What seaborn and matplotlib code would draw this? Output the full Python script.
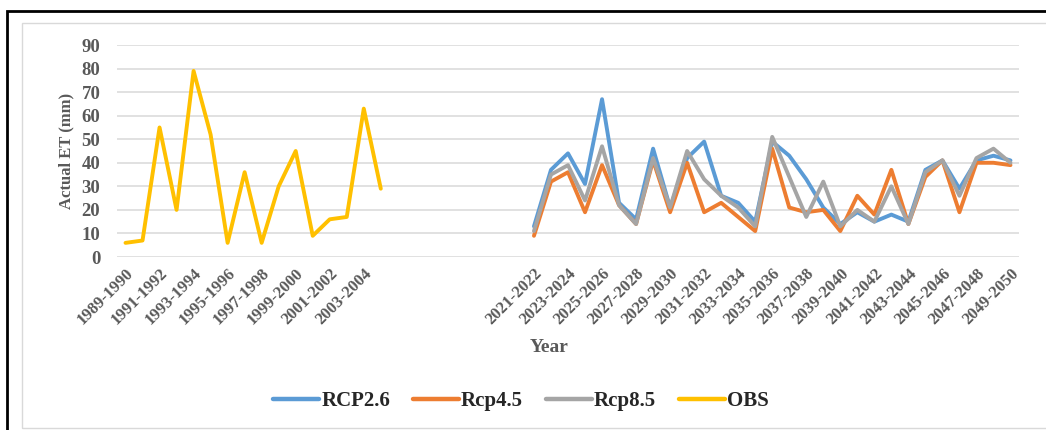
import numpy as np
import pandas as pd
import matplotlib
matplotlib.use("Agg")
import matplotlib.pyplot as plt
import seaborn as sns
from matplotlib.patches import Rectangle

sns.set_theme(style="white")
plt.rcParams['font.family'] = ['Liberation Serif', 'DejaVu Serif']
plt.rcParams['font.weight'] = 'bold'

# x 축 카테고리 (관측 16개 + 빈칸 8개 + 미래 29개)
obs_labels = ["1989-1990", "1990-1991", "1991-1992", "1992-1993", "1993-1994", "1994-1995",
              "1995-1996", "1996-1997", "1997-1998", "1998-1999", "1999-2000", "2000-2001",
              "2001-2002", "2002-2003", "2003-2004", "2004-2005"]
gap_labels = ["", "", "", "", "", "", "", ""]
fut_labels = ["2021-2022", "2022-2023", "2023-2024", "2024-2025", "2025-2026", "2026-2027",
              "2027-2028", "2028-2029", "2029-2030", "2030-2031", "2031-2032", "2032-2033",
              "2033-2034", "2034-2035", "2035-2036", "2036-2037", "2037-2038", "2038-2039",
              "2039-2040", "2040-2041", "2041-2042", "2042-2043", "2043-2044", "2044-2045",
              "2045-2046", "2046-2047", "2047-2048", "2048-2049", "2049-2050"]

obs = [6, 7, 55, 20, 79, 52, 6, 36, 6, 30, 45, 9, 16, 17, 63, 29]
rcp26 = [13, 37, 44, 31, 67, 23, 16, 46, 21, 42, 49, 26, 23, 15, 49,
         43, 33, 21, 14, 19, 15, 18, 15, 37, 41, 29, 41, 43, 41]
rcp45 = [9, 32, 36, 19, 39, 22, 14, 41, 19, 40, 19, 23, 17, 11, 46,
         21, 19, 20, 11, 26, 18, 37, 14, 34, 41, 19, 40, 40, 39]
rcp85 = [11, 35, 39, 24, 47, 22, 14, 42, 21, 45, 33, 26, 21, 13, 51,
         34, 17, 32, 13, 20, 15, 30, 14, 36, 41, 26, 42, 46, 40]

categories = obs_labels + gap_labels + fut_labels
fut_start = len(obs_labels) + len(gap_labels)

rows = []
for name, vals in [("RCP2.6", rcp26), ("Rcp4.5", rcp45), ("Rcp8.5", rcp85)]:
    for i, v in enumerate(vals):
        rows.append({"pos": fut_start + i, "ET": v, "series": name})
for i, v in enumerate(obs):
    rows.append({"pos": i, "ET": v, "series": "OBS"})
df = pd.DataFrame(rows)

colors = {"RCP2.6": "#5B9BD5", "Rcp4.5": "#ED7D31", "Rcp8.5": "#A5A5A5", "OBS": "#FFC000"}
order = ["RCP2.6", "Rcp4.5", "Rcp8.5", "OBS"]

fig = plt.figure(figsize=(10.46, 4.30), dpi=100)
ax = fig.add_axes([117 / 1046, 1 - 257 / 430, 902 / 1046, 212 / 430])

sns.lineplot(data=df, x="pos", y="ET", hue="series", hue_order=order, palette=colors,
             linewidth=2.8, ax=ax, legend=False, sort=True)
for ln in ax.lines:
    ln.set_solid_joinstyle("round")
    ln.set_solid_capstyle("round")

ax.set_xlim(-0.5, len(categories) - 0.5)
ax.set_ylim(0, 90)
ax.set_yticks(range(0, 91, 10))
ax.yaxis.grid(True, color="#D9D9D9", linewidth=1.1)
ax.set_axisbelow(True)
for s in ax.spines.values():
    s.set_visible(False)

tick_pos = list(range(0, len(categories), 2))
ax.set_xticks(tick_pos)
ax.set_xticklabels([categories[p] for p in tick_pos], rotation=45, ha="right", va="top",
                   rotation_mode="anchor", fontsize=12, fontweight="bold", color="#595959")
ax.tick_params(axis="x", length=0, pad=6)
ax.tick_params(axis="y", length=0, pad=12, labelsize=13.5, labelcolor="#595959")
for t in ax.get_yticklabels():
    t.set_fontweight("bold")

ax.set_xlabel("")
ax.set_ylabel("Actual ET (mm)", fontsize=12, fontweight="bold", color="#595959")
ax.yaxis.set_label_coords((74 - 117) / 902, 0.5)

fig.text(549 / 1046, 1 - 348 / 430, "Year", ha="center", va="center",
         fontsize=14, fontweight="bold", color="#595959")

handles = [plt.Line2D([], [], color=colors[k], linewidth=3.2, solid_capstyle="round") for k in order]
fig.legend(handles, order, loc="center", bbox_to_anchor=(521 / 1046, 1 - 401 / 430), ncol=4,
           frameon=False, handlelength=2.2, handletextpad=0.1, columnspacing=1.1,
           prop={"family": "Liberation Serif", "weight": "bold", "size": 15})

# 바깥 테두리
fig.patches.append(Rectangle((22 / 1046, 2 / 430), 1.0, 405 / 430, transform=fig.transFigure,
                             fill=False, edgecolor="#D9D9D9", linewidth=1))
fig.patches.append(Rectangle((7 / 1046, -0.05), 1.1, 1.05 - 11 / 430, transform=fig.transFigure,
                             fill=False, edgecolor="black", linewidth=2))

fig.savefig("out.png", dpi=100, facecolor="white")
